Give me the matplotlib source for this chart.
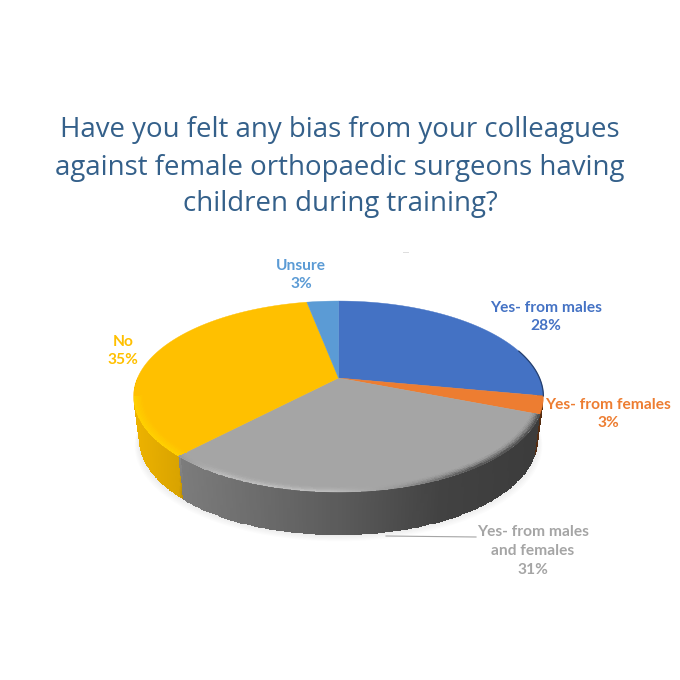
import numpy as np
import matplotlib
matplotlib.use("Agg")
import matplotlib.pyplot as plt
from matplotlib.colors import to_rgb

title_lines = ["Have you felt any bias from your colleagues",
               "against female orthopaedic surgeons having",
               "children during training?"]

# survey shares, clockwise from the top of the pie
categories = ["Yes- from males", "Yes- from females", "Yes- from males\nand females", "No", "Unsure"]
shares = [28, 3, 31, 35, 3]
colors = ["#4472C4", "#ED7D31", "#A5A5A5", "#FFC000", "#5B9BD5"]

# where the label of each slice sits
label_x = [546, 608, 533, 123, 301]
label_y = [317, 414, 551, 351, 275]

# pie geometry in pixels, the disc is tilted so a homography maps it to the screen
apex_x, apex_y = 338.5, 378
radius_x, radius_y = 201, 91.9
tilt = 0.194
depth = 43
bottom_shrink = 0.028


def to_screen(theta, r=1.0):
    u = r * np.sin(np.radians(theta))
    v = r * np.cos(np.radians(theta))
    w = 1 + tilt * v
    return apex_x + radius_x * u / w, apex_y - radius_y * v / w


def wall_shade(x, base):
    # horizontal light falloff on the side of the pie
    factor = np.interp(x, [135, 179, 182, 340, 440, 540], [0.93, 0.85, 0.75, 0.55, 0.40, 0.36])
    return factor[..., None] * np.array(to_rgb(base))


fig = plt.figure(figsize=(6.8, 6.8), dpi=100)
ax = fig.add_axes([0, 0, 1, 1])
ax.set_xlim(0, 680)
ax.set_ylim(680, 0)
ax.axis("off")

# soft shadow under the pie
ring = np.linspace(0, 360, 181)
rx, ry = to_screen(ring)
for grow in np.linspace(0.0, 9.0, 7):
    ax.fill(apex_x + (rx - apex_x) * (1 - bottom_shrink + grow / 400),
            ry + depth + grow * 0.7,
            color="#808080", alpha=0.025, lw=0, zorder=1)

edges = 360 * np.cumsum([0] + shares) / sum(shares)

# side wall
for start, end, color in zip(edges[:-1], edges[1:], colors):
    lo, hi = max(start, 90), min(end, 270)
    if hi <= lo:
        continue
    theta = np.linspace(lo, hi, 120)
    s = np.linspace(0, 1, 12)
    tt, ss = np.meshgrid(theta, s)
    x, y = to_screen(tt)
    xx = apex_x + (x - apex_x) * (1 - bottom_shrink * ss)
    yy = y + depth * ss
    mid_x = 0.25 * (xx[:-1, :-1] + xx[1:, :-1] + xx[:-1, 1:] + xx[1:, 1:])
    ax.pcolormesh(xx, yy, wall_shade(mid_x, color), shading="flat",
                  antialiased=False, linewidth=0, rasterized=True, zorder=2)

# top faces
for start, end, color in zip(edges[:-1], edges[1:], colors):
    theta = np.linspace(start, end, 120)
    x, y = to_screen(theta)
    ax.fill(np.r_[apex_x, x], np.r_[apex_y, y], color=color, lw=0.3, zorder=3)

# bevel along the front rim of the gray and gold slices
band = np.linspace(0.955, 1.0, 8)
for start, end, color in zip(edges[:-1], edges[1:], colors):
    lo, hi = max(start, 101), min(end, 259)
    if hi <= lo or end - start < 60:
        continue
    tt, rr = np.meshgrid(np.linspace(lo, hi, 160), band)
    xx, yy = to_screen(tt, rr)
    mid_x = 0.25 * (xx[:-1, :-1] + xx[1:, :-1] + xx[:-1, 1:] + xx[1:, 1:])
    mid_r = 0.5 * (rr[:-1, :-1] + rr[1:, :-1])
    strength = (mid_r - band[0]) / (band[-1] - band[0])
    base = np.array(to_rgb(color))
    if color == "#FFC000":
        target = np.broadcast_to(np.array(to_rgb("#FFD400")), mid_x.shape + (3,))
        amount = strength * 0.8
    else:
        level = np.interp(mid_x, [180, 220, 330, 400, 470, 540], [0.60, 0.74, 0.76, 0.58, 0.30, 0.28])
        target = level[..., None] * np.ones(3)
        amount = strength ** 2
    rgb = base + (target - base) * amount[..., None]
    ax.pcolormesh(xx, yy, rgb, shading="flat", antialiased=False, linewidth=0,
                  rasterized=True, zorder=4)

# dark hairline on the right edge of the blue slice
edge_x, edge_y = to_screen(np.linspace(72, edges[1], 40))
ax.plot(edge_x, edge_y, color="#26406F", lw=0.9, zorder=5)

# labels
for name, share, color, lx, ly in zip(categories, shares, colors, label_x, label_y):
    ax.text(lx, ly, f"{name}\n{share}%", color=color, family="Lato", weight="bold",
            fontsize=11.2, ha="center", va="center", linespacing=1.42, zorder=6)

# leader line for the gray slice
ax.plot([386, 476], [536, 537], color="#A5A5A5", lw=0.8, zorder=5)

# small speck above the pie
ax.plot([403, 408], [252, 252], color="#DDDDDD", lw=0.7, zorder=1)

for i, line in enumerate(title_lines):
    ax.text(340, 130.5 + 37 * i, line, color="#34608A", family="Open Sans",
            fontsize=19.9, ha="center", va="center")

fig.savefig("out.png", dpi=100)
